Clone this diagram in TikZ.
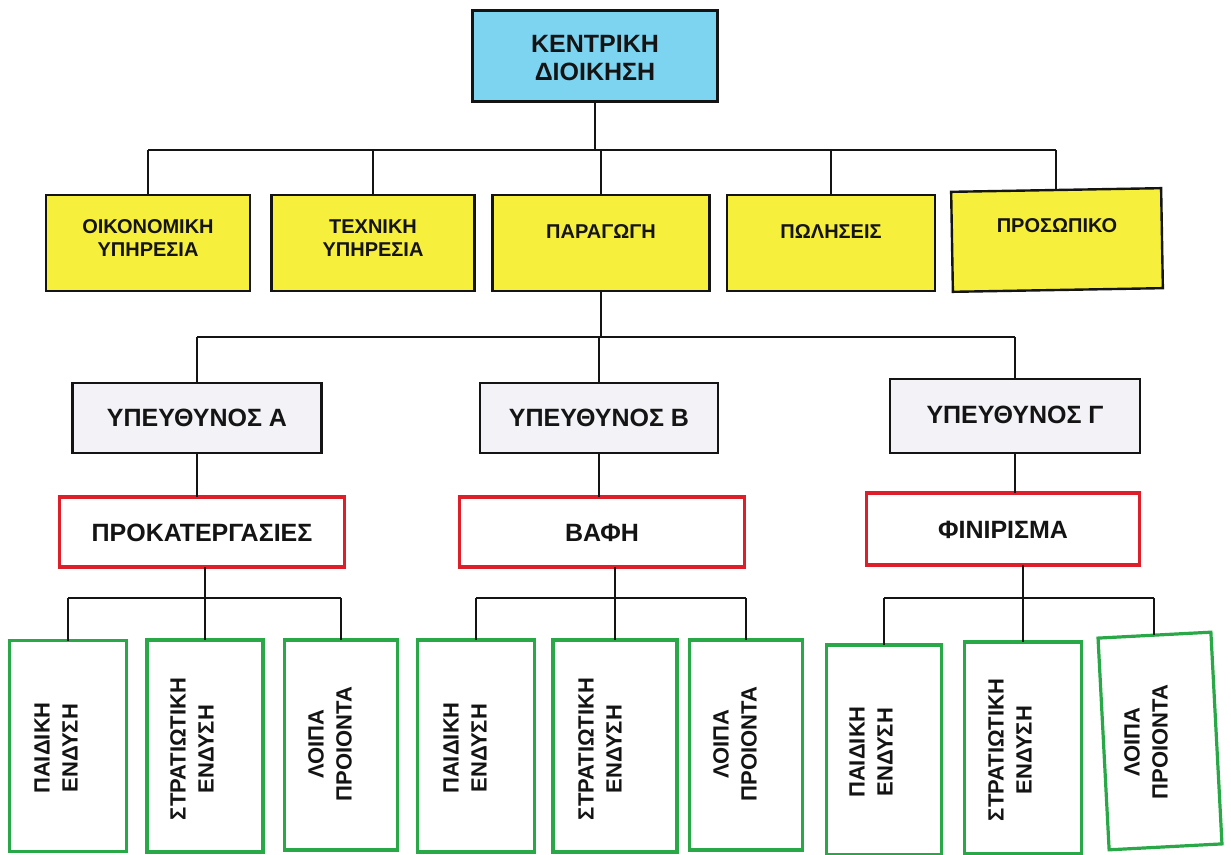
\documentclass[tikz,border=0pt]{standalone}
\usepackage{fontspec}
\setmainfont{Liberation Sans}
\definecolor{topblue}{RGB}{125,212,240}
\definecolor{boxyellow}{RGB}{246,240,60}
\definecolor{boxgrey}{RGB}{242,242,247}
\definecolor{boxred}{RGB}{222,30,40}
\definecolor{boxgreen}{RGB}{40,168,70}
\definecolor{ink}{RGB}{20,20,20}
\begin{document}
\begin{tikzpicture}[x=0.5pt,y=-0.5pt,
  bx/.style 2 args={minimum width=#1*0.5pt, minimum height=#2*0.5pt, inner sep=0pt, outer sep=0pt},
  topbox/.style={draw=ink, line width=1.2pt, fill=topblue},
  ybox/.style={draw=ink, line width=1.2pt, fill=boxyellow},
  gbox/.style={draw=ink, line width=1.2pt, fill=boxgrey},
  rbox/.style={draw=boxred, line width=1.6pt, fill=white},
  grbox/.style={draw=boxgreen, line width=1.6pt, fill=white},
  txt/.style={text=ink, font=\bfseries, align=center, inner sep=0pt},
  bigtxt/.style={txt, font=\fontsize{12.5}{14}\selectfont\bfseries},
  ytxt/.style={txt, font=\fontsize{10}{11.5}\selectfont\bfseries},
  mtxt/.style={txt, font=\fontsize{12.5}{14}\selectfont\bfseries},
  vtxt/.style={txt, rotate=90, font=\fontsize{11}{14}\selectfont\bfseries},
  conn/.style={draw=ink, line width=1pt}]
\useasboundingbox (0,0) rectangle (1231,855);
\fill[white] (0,0) rectangle (1231,855);

% level 0
\node[topbox, bx={245}{91}] (top) at (595,56) {};
\node[bigtxt] (topt) at (595,58) {ΚΕΝΤΡΙΚΗ\\ΔΙΟΙΚΗΣΗ};

% level 1
\node[ybox, bx={204}{96}] (y1) at (148,243) {};
\node[ybox, bx={203}{96}] (y2) at (373,243) {};
\node[ybox, bx={217}{96}] (y3) at (601,243) {};
\node[ybox, bx={208}{96}] (y4) at (831,243) {};
\node[ybox, bx={210}{100}, rotate=1] (y5) at (1057,240) {};
\node[ytxt] (y1t) at (148,238) {ΟΙΚΟΝΟΜΙΚΗ\\ΥΠΗΡΕΣΙΑ};
\node[ytxt] (y2t) at (373,238) {ΤΕΧΝΙΚΗ\\ΥΠΗΡΕΣΙΑ};
\node[ytxt] (y3t) at (601,232) {ΠΑΡΑΓΩΓΗ};
\node[ytxt] (y4t) at (831,232) {ΠΩΛΗΣΕΙΣ};
\node[ytxt] (y5t) at (1057,226) {ΠΡΟΣΩΠΙΚΟ};

% level 2
\node[gbox, bx={249}{70}] (g1) at (197,418) {};
\node[gbox, bx={238}{70}] (g2) at (599,418) {};
\node[gbox, bx={250}{74}] (g3) at (1015,416) {};
\node[mtxt] (g1t) at (197,418) {ΥΠΕΥΘΥΝΟΣ Α};
\node[mtxt] (g2t) at (599,418) {ΥΠΕΥΘΥΝΟΣ Β};
\node[mtxt] (g3t) at (1015,415) {ΥΠΕΥΘΥΝΟΣ Γ};

% level 3
\node[rbox, bx={285}{70}] (r1) at (202,532) {};
\node[rbox, bx={285}{70}] (r2) at (602,532) {};
\node[rbox, bx={273}{72}] (r3) at (1003,529) {};
\node[mtxt] (r1t) at (202,533) {ΠΡΟΚΑΤΕΡΓΑΣΙΕΣ};
\node[mtxt] (r2t) at (602,533) {ΒΑΦΗ};
\node[mtxt] (r3t) at (1003,530) {ΦΙΝΙΡΙΣΜΑ};

% level 4
\node[grbox, bx={117}{211}] (a1) at (68,746) {};
\node[grbox, bx={116}{212}] (a2) at (205,746) {};
\node[grbox, bx={113}{210}] (a3) at (341,745) {};
\node[grbox, bx={117}{212}] (b1) at (476,746) {};
\node[grbox, bx={124}{212}] (b2) at (615,746) {};
\node[grbox, bx={113}{210}] (b3) at (746,745) {};
\node[grbox, bx={115}{210}] (c1) at (884,750) {};
\node[grbox, bx={117}{212}] (c2) at (1023,748) {};
\node[grbox, bx={113}{212}, rotate=3] (c3) at (1160,741) {};
\node[vtxt] (a1t) at (56,748) {ΠΑΙΔΙΚΗ\\ΕΝΔΥΣΗ};
\node[vtxt] (a2t) at (192,749) {ΣΤΡΑΤΙΩΤΙΚΗ\\ΕΝΔΥΣΗ};
\node[vtxt] (a3t) at (330,744) {ΛΟΙΠΑ\\ΠΡΟΙΟΝΤΑ};
\node[vtxt] (b1t) at (465,748) {ΠΑΙΔΙΚΗ\\ΕΝΔΥΣΗ};
\node[vtxt] (b2t) at (600,749) {ΣΤΡΑΤΙΩΤΙΚΗ\\ΕΝΔΥΣΗ};
\node[vtxt] (b3t) at (735,744) {ΛΟΙΠΑ\\ΠΡΟΙΟΝΤΑ};
\node[vtxt] (c1t) at (871,752) {ΠΑΙΔΙΚΗ\\ΕΝΔΥΣΗ};
\node[vtxt] (c2t) at (1010,750) {ΣΤΡΑΤΙΩΤΙΚΗ\\ΕΝΔΥΣΗ};
\node[vtxt] (c3t) at (1146,742) {ΛΟΙΠΑ\\ΠΡΟΙΟΝΤΑ};

% bar coordinates
\coordinate (bar1) at (0,150);
\coordinate (bar2) at (0,337);
\coordinate (bar3) at (0,598);

% connectors
\draw[conn] (top.south) -- (top.south |- bar1);
\draw[conn] (y1.north |- bar1) -- (y5.north |- bar1);
\foreach \n in {y1,y2,y3,y4,y5} \draw[conn] (\n.north |- bar1) -- (\n.north);

\draw[conn] (y3.south) -- (y3.south |- bar2);
\draw[conn] (g1.north |- bar2) -- (g3.north |- bar2);
\foreach \n in {g1,g2,g3} \draw[conn] (\n.north |- bar2) -- (\n.north);

\draw[conn] (g1.south) -- (g1.south |- r1.north);
\draw[conn] (g2.south) -- (g2.south |- r2.north);
\draw[conn] (g3.south) -- (g3.south |- r3.north);

\draw[conn] (r1.south -| a2.north) -- (a2.north |- bar3);
\draw[conn] (a1.north |- bar3) -- (a3.north |- bar3);
\foreach \n in {a1,a2,a3} \draw[conn] (\n.north |- bar3) -- (\n.north);

\draw[conn] (r2.south -| b2.north) -- (b2.north |- bar3);
\draw[conn] (b1.north |- bar3) -- (b3.north |- bar3);
\foreach \n in {b1,b2,b3} \draw[conn] (\n.north |- bar3) -- (\n.north);

\draw[conn] (r3.south -| c2.north) -- (c2.north |- bar3);
\draw[conn] (c1.north |- bar3) -- (c3.north |- bar3);
\foreach \n in {c1,c2,c3} \draw[conn] (\n.north |- bar3) -- (\n.north);
\end{tikzpicture}
\end{document}
